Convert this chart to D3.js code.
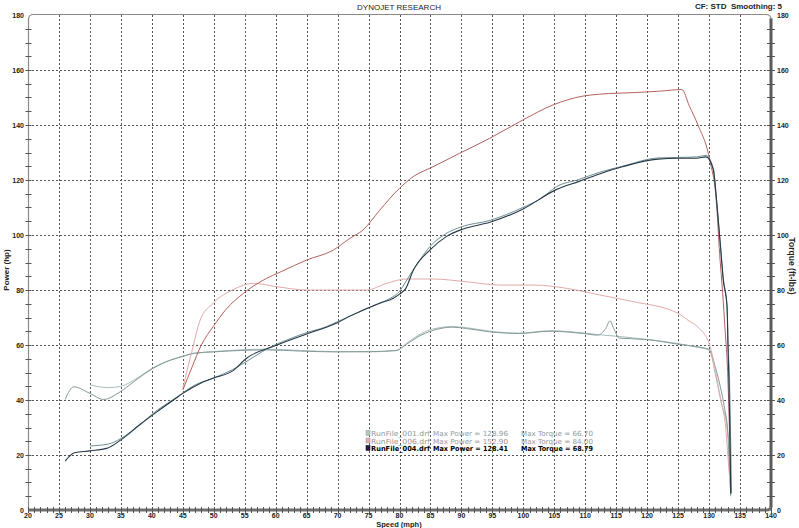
<!DOCTYPE html>
<html><head><meta charset="utf-8">
<script src="https://cdn.jsdelivr.net/npm/d3@7/dist/d3.min.js"></script>
<style>body{margin:0;background:#fff}svg{display:block}</style>
</head><body>
<svg id="chart" width="799" height="528"></svg>
<script>
// ---------- data ----------
const xTickValues = d3.range(20, 141, 5);
const yTickValues = d3.range(0, 181, 20);

// [speed mph, hp]
const run001Power = [[30,23.3],[33,24],[35,26],[38,31],[41,36.5],[44,41],[47,45.5],[50,48],[53,51],[56,55],[58.5,58.5],[62,62],[65,64.5],[68,66.5],[70,68.5],[73,71.5],[76,74.5],[78.5,77],[80,79.5],[81,83],[83,90],[85,96],[87.5,100.5],[90,103],[94.6,105.3],[99.9,110],[103,113.5],[105.3,117.5],[109,120.2],[112.3,122.8],[116,125],[121.7,128],[125,128.2],[128,128.4],[129.5,128.96],[130.7,124],[131.2,113],[131.8,97],[132.3,84],[132.9,74],[133.1,59],[133.3,47],[133.5,23],[133.6,6]];
const run004Power = [[26,17.8],[27.5,20.8],[30,21.5],[32.7,22.4],[35,25.5],[38,30.9],[40.8,35.7],[43.5,40],[45,42.4],[47.8,46],[50,48],[53,50.5],[55.3,55.2],[60.2,60],[65,64],[69.8,67.9],[72,70.5],[76.8,75.2],[79,77],[80,78.5],[81,80.5],[82.2,87],[84.9,94.5],[87.6,99.5],[90.3,102.2],[94.6,104.6],[99.9,109.4],[105.3,116.5],[109,119.5],[112.3,122.2],[116,124.8],[121.7,127.6],[125,127.9],[128,127.9],[129.5,128.41],[130.7,123.6],[131.2,112.7],[131.8,97],[132.3,83.6],[132.9,74],[133.05,59.4],[133.2,47],[133.4,23],[133.5,6]];
const run006Power = [[45,43.6],[46.5,52],[48,60],[50,67],[52,73],[54.8,78.8],[58,83.6],[61,86.8],[65,90.9],[69.3,94.5],[72,98.8],[74.1,101.8],[76.8,109],[80,117],[82.2,121.2],[85.4,124.8],[89.7,129.7],[94.6,135.2],[99.9,141.8],[104.8,147.3],[109.6,150.5],[112.3,151.2],[118,151.8],[122,152.3],[125.6,152.9],[126.8,147],[128.2,140],[130.1,127.3],[131.2,111.5],[131.7,93.3],[132.2,78.8],[132.6,65],[133,50],[133.3,28],[133.5,7]];

// [speed mph, ft-lbs]
const run001Torque = [[30,45.5],[33,44.5],[35,45],[38,48.5],[40,51.5],[43,54.5],[45,56],[47,57],[50,57.6],[54,58.2],[58.5,58.5],[64,58],[69.3,57.6],[75,57.5],[79.5,58],[81.1,60.5],[83,63.5],[85.4,65.8],[88.6,66.7],[90.8,66.3],[94.6,65],[99.4,64.3],[104.3,65.2],[109.6,64.4],[112,63.8],[116,63],[120,62],[125,60.5],[128,59.2],[130,58.2],[131.2,47.3],[132,38.8],[132.8,31.5],[133.3,20.7],[133.5,6]];
const run004Torque = [[26,40.2],[27.4,44.8],[30,42.4],[32.2,40.2],[34.9,43],[37,46.5],[40.2,51.5],[43,54.5],[45,55.8],[46.7,57],[50,57.5],[54.3,58],[58.5,58.2],[64,57.8],[69.3,57.5],[75,57.6],[79.5,58],[81.1,60.2],[83,63],[85.4,65.3],[88.6,66.5],[90.8,66],[94.6,64.8],[99.4,64.2],[104.3,65],[109.6,64.2],[112,63.6],[113.3,66],[114,68.79],[114.6,66],[115.5,62.5],[120,62],[125,60.3],[128,59.4],[130,58.4],[131,52],[131.8,45],[132.5,37],[133,29],[133.3,14],[133.5,5]];
const run006Torque = [[45,44.2],[46.5,58],[47.8,69],[49.9,75.2],[53.2,80.2],[56.4,82.4],[60.2,81.2],[65,80],[70.4,80],[74.7,80],[77.9,82.4],[81.1,84],[85.4,84],[90.8,83],[96.2,81.8],[101.6,81.8],[107,80.6],[112.3,78.2],[117.7,75.8],[125,71.5],[126.6,69],[128.2,66.5],[130.1,60],[130.9,52],[131.5,44.8],[132,38.8],[132.6,31.6],[133.2,15],[133.5,7]];

const runNames = ["RunFile_001.drf", "RunFile_006.drf", "RunFile_004.drf"];
const maxPower = ["128.96", "152.90", "128.41"];
const maxTorque = ["66.70", "84.00", "68.79"];

// ---------- drawing ----------
const svg = d3.select("#chart");
const x = d3.scaleLinear().domain([20, 140]).range([28, 771]);
const y = d3.scaleLinear().domain([0, 180]).range([510, 15]);
const font = "'Liberation Sans', Arial, sans-serif";

// grid
const grid = svg.append("g").attr("stroke", "#555").attr("stroke-width", 1).attr("stroke-dasharray", "2,2");
xTickValues.filter(v => v > 20 && v < 140).forEach(v => {
  const px = Math.round(x(v)) + 0.5;
  grid.append("line").attr("x1", px).attr("x2", px).attr("y1", y(180)).attr("y2", y(0));
});
yTickValues.filter(v => v > 0 && v < 180).forEach(v => {
  const py = Math.round(y(v)) + 0.5;
  grid.append("line").attr("x1", x(20)).attr("x2", x(140)).attr("y1", py).attr("y2", py);
});

// frame
const fr = svg.append("g").attr("fill", "none");
const L = x(20) + 0.5, R = x(140), T = y(180) - 0.5, B = y(0);
fr.append("path").attr("d", `M${L},${B} L${L},${T + 5} Q${L},${T} ${L + 5},${T} L${R - 5},${T} Q${R},${T} ${R},${T + 5}`)
  .attr("stroke", "#8a8a8a").attr("stroke-width", 1.2);
fr.append("line").attr("x1", R).attr("x2", R).attr("y1", T + 4).attr("y2", B - 3).attr("stroke", "#5a5a5a").attr("stroke-width", 3);
fr.append("path").attr("d", `M${L},${B} L${R - 4},${B} Q${R},${B} ${R},${B - 4}`).attr("stroke", "#6e6e6e").attr("stroke-width", 3);

// minor ticks
const tk = svg.append("g").attr("stroke", "#555").attr("stroke-width", 1);
d3.range(20, 141, 1).forEach(v => {
  const px = Math.round(x(v)) + 0.5;
  tk.append("line").attr("x1", px).attr("x2", px).attr("y1", B - 3).attr("y2", B + 3);
});
d3.range(5, 180, 5).forEach(v => {
  const py = Math.round(y(v)) + 0.5;
  tk.append("line").attr("x1", L - 3).attr("x2", L + 3).attr("y1", py).attr("y2", py);
  tk.append("line").attr("x1", R - 4).attr("x2", R + 4).attr("y1", py).attr("y2", py);
});

// tick labels
const lab = svg.append("g").attr("font-family", font).attr("font-size", "7px").attr("font-weight", "bold").attr("fill", "#222");
yTickValues.forEach(v => {
  lab.append("text").attr("x", 24).attr("y", y(v) + 2.5).attr("text-anchor", "end").text(v);
  lab.append("text").attr("x", 777).attr("y", y(v) + 2.5).attr("text-anchor", "start").text(v);
});
xTickValues.forEach(v => {
  lab.append("text").attr("x", x(v)).attr("y", 518).attr("text-anchor", "middle").text(v);
});

// titles
svg.append("text").attr("x", 399).attr("y", 10).attr("text-anchor", "middle").attr("font-family", font)
  .attr("font-size", "8px").attr("fill", "#222").text("DYNOJET RESEARCH");
svg.append("text").attr("x", 782).attr("y", 9).attr("text-anchor", "end").attr("font-family", font)
  .attr("font-size", "8px").attr("font-weight", "bold").attr("fill", "#222").attr("xml:space", "preserve").text("CF: STD  Smoothing: 5");
svg.append("text").attr("x", 399).attr("y", 526.5).attr("text-anchor", "middle").attr("font-family", font)
  .attr("font-size", "7.5px").attr("font-weight", "bold").attr("fill", "#222").text("Speed (mph)");
svg.append("text").attr("transform", "translate(9,270) rotate(-90)").attr("text-anchor", "middle").attr("font-family", font)
  .attr("font-size", "8px").attr("font-weight", "bold").attr("fill", "#222").text("Power (hp)");
svg.append("text").attr("transform", "translate(789,266) rotate(90)").attr("text-anchor", "middle").attr("font-family", font)
  .attr("font-size", "8.5px").attr("font-weight", "bold").attr("fill", "#222").text("Torque (ft-lbs)");

// series
const line = d3.line().x(d => x(d[0])).y(d => y(d[1])).curve(d3.curveMonotoneX);
const series = [
  {data: run001Torque, color: "#a9bdbb", w: 1},
  {data: run004Torque, color: "#839a99", w: 1},
  {data: run006Torque, color: "#e3aaa8", w: 1},
  {data: run006Power, color: "#b3625e", w: 1},
  {data: run001Power, color: "#6d8f8c", w: 1},
  {data: run004Power, color: "#26384a", w: 1.1}
];
const sg = svg.append("g").attr("fill", "none");
series.forEach(s => sg.append("path").attr("d", line(s.data)).attr("stroke", s.color).attr("stroke-width", s.w));

// legend
const swatch = ["#b2cbb9", "#e6a9a9", "#1c1f48"];
const textCol = ["#8e9c9c", "#9c9494", "#000"];
const lg = svg.append("g").attr("font-family", "'DejaVu Sans', sans-serif").attr("font-size", "7px");
runNames.forEach((n, i) => {
  const yy = 436 + i * 7.5;
  lg.append("rect").attr("x", 366).attr("y", yy - 5.5).attr("width", 4).attr("height", 5)
    .attr("fill", swatch[i]).attr("stroke", i === 2 ? "#000" : "#8a9a9a").attr("stroke-width", 0.5);
  const w = i === 2 ? "bold" : "normal";
  lg.append("text").attr("x", 371).attr("y", yy).attr("fill", textCol[i]).attr("font-weight", w)
    .attr("textLength", 59).attr("lengthAdjust", "spacingAndGlyphs").text(n);
  lg.append("text").attr("x", 433).attr("y", yy).attr("fill", textCol[i]).attr("font-weight", w)
    .attr("textLength", 75).attr("lengthAdjust", "spacingAndGlyphs").text("Max Power = " + maxPower[i]);
  lg.append("text").attr("x", 521).attr("y", yy).attr("fill", textCol[i]).attr("font-weight", w)
    .attr("textLength", 72).attr("lengthAdjust", "spacingAndGlyphs").text("Max Torque = " + maxTorque[i]);
});
</script>
</body></html>
